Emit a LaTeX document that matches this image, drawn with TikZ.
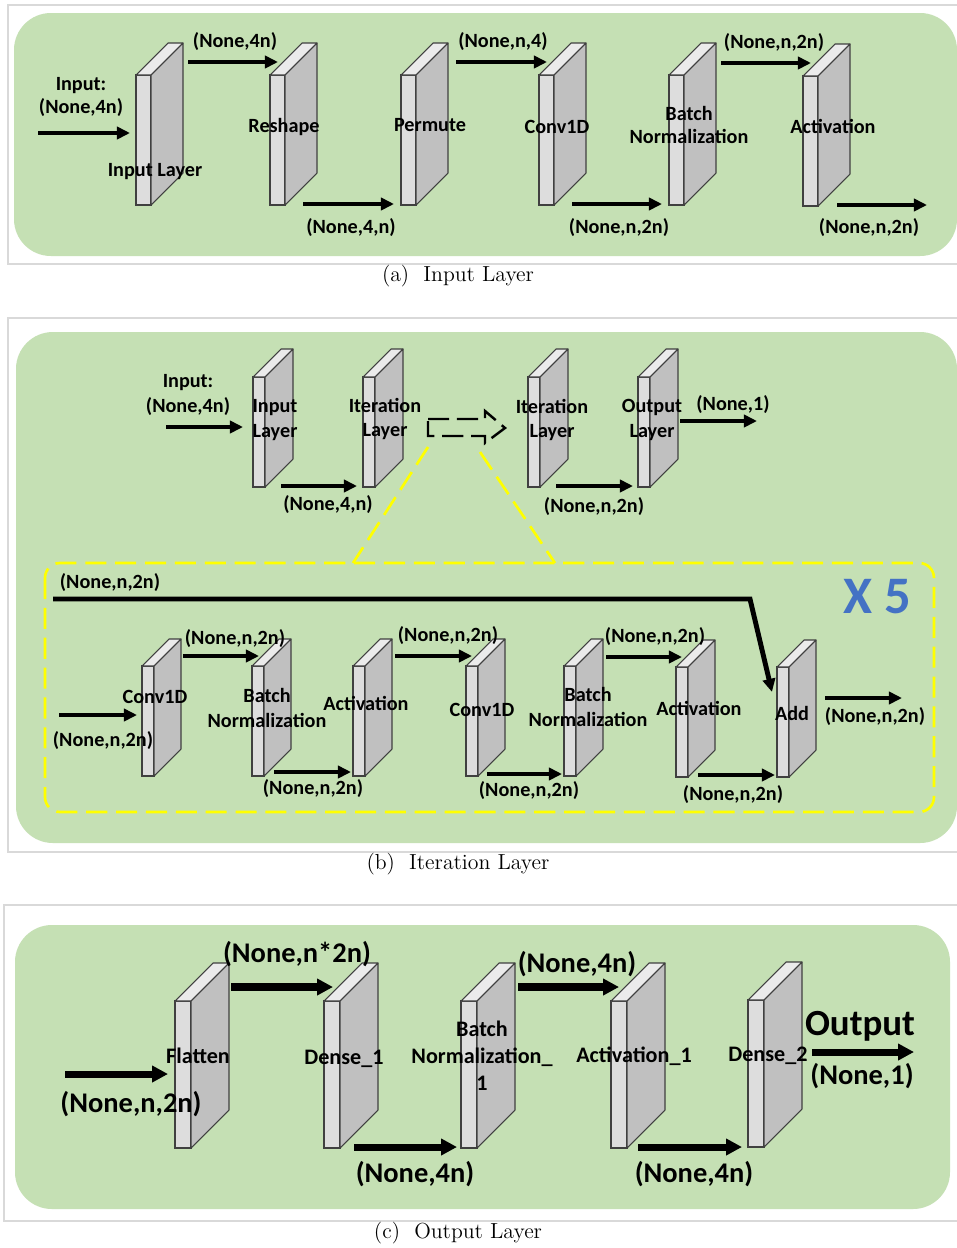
\documentclass[tikz,border=0pt]{standalone}
\usepackage{fontspec}
\usetikzlibrary{arrows.meta}
\newfontfamily\calfont{Carlito}

\definecolor{panelgreen}{HTML}{C5E0B4}
\definecolor{framegray}{HTML}{D9D9D9}
\definecolor{slabfront}{HTML}{DDDDDD}
\definecolor{slabside}{HTML}{C0C0C0}
\definecolor{slabtop}{HTML}{EBEBEB}
\definecolor{zoomyellow}{HTML}{FFFF00}
\definecolor{repblue}{HTML}{4472C4}

% one layer drawn as a slab: name, x, y (front top left), width, height, depth
\newcommand{\slab}[6]{%
  \node[front, minimum width=#4*0.02cm, minimum height=#5*0.02cm, anchor=north west] (#1) at (#2,#3) {};
  \draw[topface] (#1.north west) -- ++(#6,-#6) -- ++(#4,0) -- (#1.north east) -- cycle;
  \draw[sideface] (#1.north east) -- ++(#6,-#6) -- ++(0,#5) -- (#1.south east) -- cycle;
}

\begin{document}
\begin{tikzpicture}[x=0.02cm, y=-0.02cm,
  front/.style={draw=black!75, fill=slabfront, line width=0.6pt, inner sep=0pt, outer sep=0pt},
  topface/.style={draw=black!75, fill=slabtop, line width=0.6pt, line join=round},
  sideface/.style={draw=black!75, fill=slabside, line width=0.6pt, line join=round},
  flow/.style={line width=2.8pt, -{Triangle[length=7.5pt, width=7pt]}},
  bigflow/.style={line width=4pt, -{Triangle[length=9pt, width=9pt]}},
  lbl/.style={font=\calfont\bfseries\fontsize{11.5}{13.5}\selectfont, align=center, inner sep=0pt},
  laylbl/.style={font=\calfont\bfseries\fontsize{12.6}{15.3}\selectfont, align=center, inner sep=0pt},
  biglbl/.style={font=\calfont\bfseries\fontsize{16.2}{19}\selectfont, align=center, inner sep=0pt},
  outlbl/.style={font=\calfont\bfseries\fontsize{21}{24}\selectfont, inner sep=0pt},
  caption/.style={font=\fontsize{12.4}{14}\selectfont, inner sep=0pt},
  panel/.style={fill=panelgreen, rounded corners=21pt},
  frame/.style={draw=framegray, line width=0.7pt},
  zoomline/.style={draw=zoomyellow, line width=1.5pt, dash pattern=on 12pt off 5pt}]

\useasboundingbox[fill=white] (0,0) rectangle (957,1248);

%%%%% (a) input layer
\draw[frame] (957,5) -- (8,5) -- (8,264) -- (957,264);
\fill[panel] (14,13) rectangle (957,256);

\slab{ain}{136}{75}{15}{130}{32}
\slab{ares}{270}{75}{15}{130}{32}
\slab{aper}{401}{75}{15}{130}{32}
\slab{aconv}{539}{75}{15}{130}{32}
\slab{abn}{669}{75}{15}{130}{32}
\slab{aact}{803}{76}{15}{130}{32}

\coordinate (ainsrc) at (38,133);
\coordinate (aoutdst) at (927,205);
\draw[flow] (ainsrc) -- ([shift={(-6,58)}]ain.north west);
\draw[flow] ([shift={(37,-13)}]ain.north east) -- ([shift={(-7,-13)}]ares.north east);
\draw[flow] ([shift={(18,-1)}]ares.south east) -- ([shift={(-7,-1)}]aper.south west);
\draw[flow] ([shift={(40,-13)}]aper.north east) -- ([shift={(-7,-13)}]aconv.north east);
\draw[flow] ([shift={(18,-1)}]aconv.south east) -- ([shift={(-7,-1)}]abn.south west);
\draw[flow] ([shift={(37,-12)}]abn.north east) -- ([shift={(-7,-13)}]aact.north east);
\draw[flow] ([shift={(19,-1)}]aact.south east) -- (aoutdst);

\node[lbl] (ainlbl) at (81,97) {Input:\\(None,4n)};
\node[lbl] (as1) at (235,42) {(None,4n)};
\node[lbl] (as2) at (351,228) {(None,4,n)};
\node[lbl] (as3) at (503,42) {(None,n,4)};
\node[lbl] (as4) at (619,228) {(None,n,2n)};
\node[lbl] (as5) at (774,43) {(None,n,2n)};
\node[lbl] (as6) at (869,228) {(None,n,2n)};

\node[lbl] (ainname) at (155,172) {Input Layer};
\node[lbl] (aresname) at (284,127) {Reshape};
\node[lbl] (apername) at (430,125) {Permute};
\node[lbl] (aconvname) at (557,127) {Conv1D};
\node[lbl] (abnname) at (689,125) {Batch\\Normalization};
\node[lbl] (aactname) at (833,126) {Activation};

\node[caption] (capa) at (458,276) {(a)~ Input Layer};

%%%%% (b) iteration layer
\draw[frame] (957,318) -- (8,318) -- (8,852) -- (957,852);
\fill[panel] (16,332) rectangle (957,843);

% top row
\slab{bin}{253}{377}{12}{110}{28}
\slab{bit1}{363}{377}{12}{110}{28}
\slab{bit2}{528}{377}{12}{110}{28}
\slab{bout}{638}{377}{12}{110}{28}

\coordinate (binsrc) at (166,427);
\coordinate (boutdst) at (757,421);
\draw[flow] (binsrc) -- ([shift={(-10,50)}]bin.north west);
\draw[flow] ([shift={(16,-1)}]bin.south east) -- ([shift={(-6,-1)}]bit1.south west);
\draw[flow] ([shift={(16,-1)}]bit2.south east) -- ([shift={(-5,-1)}]bout.south west);
\draw[flow] ([shift={(30,44)}]bout.north east) -- (boutdst);

\node[lbl, font=\calfont\bfseries\fontsize{11.5}{14.2}\selectfont] (binlbl) at (188,395) {Input:\\(None,4n)};
\node[lbl] (bs1) at (328,505) {(None,4,n)};
\node[lbl] (bs2) at (594,507) {(None,n,2n)};
\node[lbl] (bs3) at (733,405) {(None,1)};

\node[lbl, font=\calfont\bfseries\fontsize{11.5}{14.2}\selectfont] (binname) at (275,420) {Input\\Layer};
\node[lbl, font=\calfont\bfseries\fontsize{11.5}{14.2}\selectfont] (bit1name) at (385,419) {Iteration\\Layer};
\node[lbl, font=\calfont\bfseries\fontsize{11.5}{14.2}\selectfont] (bit2name) at (552,420) {Iteration\\Layer};
\node[lbl, font=\calfont\bfseries\fontsize{11.5}{14.2}\selectfont] (boutname) at (652,420) {Output\\Layer};

% zoom into one iteration layer
\draw[line width=1.4pt, dash pattern=on 12pt off 4.5pt] (428,419) -- (485,419) -- (485,411) -- (505,428) -- (485,443) -- (485,436) -- (428,436) -- cycle;
\draw[zoomline] (428,447) -- (353,563);
\draw[zoomline] (480,452) -- (555,563);
\draw[zoomline, rounded corners=8.5pt] (45,563) rectangle (934,812);
\node[font=\calfont\bfseries\fontsize{30}{32}\selectfont, text=repblue, inner sep=0pt] (brep) at (877,597) {X 5};

% bottom row
\slab{bconv}{142}{666}{12}{110}{27}
\slab{bbn}{252}{666}{12}{110}{27}
\slab{bact}{353}{666}{12}{110}{27}
\slab{bconvb}{466}{666}{12}{110}{27}
\slab{bbnb}{564}{666}{12}{110}{27}
\slab{bactb}{676}{667}{12}{110}{27}
\slab{badd}{777}{667}{12}{110}{27}

\coordinate (bskip) at (53,599);
\coordinate (blsrc) at (59,715);
\coordinate (bldst) at (902,698);
\draw[line width=2.8pt, -{Triangle[length=7.5pt, width=7pt]}] (bskip) -- (750,599) -- ([shift={(-5,25)}]badd.north west);
\draw[flow] (blsrc) -- ([shift={(-5,49)}]bconv.north west);
\draw[flow] ([shift={(29,-10)}]bconv.north east) -- ([shift={(-5,-10)}]bbn.north east);
\draw[flow] ([shift={(10,-4)}]bbn.south east) -- ([shift={(-2,-4)}]bact.south west);
\draw[flow] ([shift={(30,-10)}]bact.north east) -- ([shift={(-6,-10)}]bconvb.north east);
\draw[flow] ([shift={(9,-2)}]bconvb.south east) -- ([shift={(-2,-2)}]bbnb.south west);
\draw[flow] ([shift={(30,-9)}]bbnb.north east) -- ([shift={(-6,-10)}]bactb.north east);
\draw[flow] ([shift={(10,-2)}]bactb.south east) -- ([shift={(-2,-2)}]badd.south west);
\draw[flow] ([shift={(36,31)}]badd.north east) -- (bldst);

\node[lbl] (bskiplbl) at (110,583) {(None,n,2n)};
\node[lbl] (bl0) at (103,741) {(None,n,2n)};
\node[lbl] (bl1) at (235,639) {(None,n,2n)};
\node[lbl] (bl2) at (313,789) {(None,n,2n)};
\node[lbl] (bl3) at (448,636) {(None,n,2n)};
\node[lbl] (bl4) at (529,791) {(None,n,2n)};
\node[lbl] (bl5) at (655,637) {(None,n,2n)};
\node[lbl] (bl6) at (733,795) {(None,n,2n)};
\node[lbl] (bl7) at (875,717) {(None,n,2n)};

\node[lbl] (bconvname) at (155,697) {Conv1D};
\node[lbl, font=\calfont\bfseries\fontsize{11.5}{14.2}\selectfont] (bbnname) at (267,708) {Batch\\Normalization};
\node[lbl] (bactname) at (366,703) {Activation};
\node[lbl] (bconvbname) at (482,710) {Conv1D};
\node[lbl, font=\calfont\bfseries\fontsize{11.5}{14.2}\selectfont] (bbnbname) at (588,707) {Batch\\Normalization};
\node[lbl] (bactbname) at (699,708) {Activation};
\node[lbl] (baddname) at (792,713) {Add};

\node[caption] (capb) at (458,864) {(b)~ Iteration Layer};

%%%%% (c) output layer
\draw[frame] (957,905) -- (4,905) -- (4,1221) -- (957,1221);
\fill[panel] (15,925) rectangle (950,1209);

\slab{cfl}{175}{1001}{16}{147}{38}
\slab{cdo}{324}{1001}{16}{147}{38}
\slab{cbn}{461}{1001}{16}{147}{38}
\slab{cact}{611}{1001}{16}{147}{38}
\slab{cdt}{748}{1000}{16}{147}{38}

\coordinate (cinsrc) at (65,1074);
\coordinate (coutdst) at (914,1052);
\draw[bigflow] (cinsrc) -- ([shift={(-7,73)}]cfl.north west);
\draw[bigflow] ([shift={(40,-14)}]cfl.north east) -- ([shift={(-7,-14)}]cdo.north east);
\draw[bigflow] ([shift={(14,-1)}]cdo.south east) -- ([shift={(-4,-1)}]cbn.south west);
\draw[bigflow] ([shift={(41,-14)}]cbn.north east) -- ([shift={(-8,-14)}]cact.north east);
\draw[bigflow] ([shift={(11,-1)}]cact.south east) -- ([shift={(-6,0)}]cdt.south west);
\draw[bigflow] ([shift={(48,52)}]cdt.north east) -- (coutdst);

\node[biglbl] (cs0) at (131,1104) {(None,n,2n)};
\node[biglbl] (cs1) at (297,954) {(None,n*2n)};
\node[biglbl] (cs2) at (415,1174) {(None,4n)};
\node[biglbl] (cs3) at (577,964) {(None,4n)};
\node[biglbl] (cs4) at (694,1174) {(None,4n)};
\node[outlbl] (coutlbl) at (860,1026) {Output};
\node[biglbl] (cs5) at (862,1076) {(None,1)};

\node[laylbl] (cflname) at (198,1056) {Flatten};
\node[laylbl] (cdoname) at (344,1059) {Dense\_1};
\node[laylbl] (cbnname) at (482,1056) {Batch\\Normalization\_\\1};
\node[laylbl] (cactname) at (634,1056) {Activation\_1};
\node[laylbl] (cdtname) at (768,1056) {Dense\_2};

\node[caption] (capc) at (458,1233) {(c)~ Output Layer};
\end{tikzpicture}
\end{document}
